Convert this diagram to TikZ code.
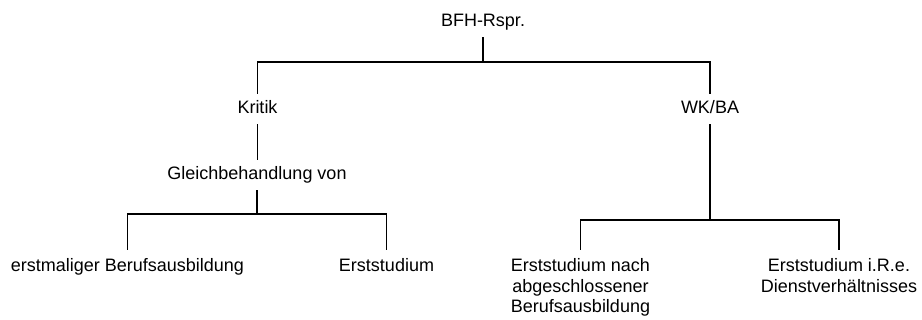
\documentclass[tikz,border=0pt]{standalone}
\usepackage{fontspec}
\setmainfont{Liberation Sans}
\begin{document}
\begin{tikzpicture}[x=1pt,y=-1pt,
  every node/.style={font=\fontsize{18}{20.5}\selectfont, inner xsep=0pt,
    inner ysep=6.5pt, text height=13.5pt, text depth=4.5pt, anchor=base, align=center},
  leaf/.style={inner ysep=8.5pt},
  twolines/.style={leaf, text height=34pt},
  threelines/.style={leaf, text height=54.5pt},
  link/.style={line width=1.3pt, line cap=rect}]
\useasboundingbox (0,0) rectangle (922,320);

% tree labels (multi-line labels sit on the baseline of their last line)
\node (root)   at (483,26.7)    {BFH-Rspr.};
\node (kritik) at (257.5,113.3) {Kritik};
\node (wkba)   at (710,113.3)   {WK/BA};
\node (gleich) at (257,179.3)   {Gleichbehandlung von};
\node[leaf] (erstBA)  at (127.5,271.7) {erstmaliger Berufsausbildung};
\node[leaf] (erstSt)  at (386.5,271.7) {Erststudium};
\node[threelines] (nachBA) at (580.5,312.7) {Erststudium nach\\abgeschlossener\\Berufsausbildung};
\node[twolines]   (dienst) at (839,292.2)   {Erststudium i.R.e.\\Dienstverhältnisses};

% horizontal bars of the branches
\coordinate (bar1) at (0,62);
\coordinate (bar2) at (0,214);
\coordinate (bar3) at (0,220);

% connectors
\draw[link] (root.south) -- (root.south |- bar1);
\draw[link] (kritik.north) |- (bar1 -| wkba.north) -- (wkba.north);
\draw[link] (kritik.south) -- (gleich.north -| kritik.south);
\draw[link] (gleich.south) -- (gleich.south |- bar2);
\draw[link] (erstBA.north) |- (bar2 -| erstSt.north) -- (erstSt.north);
\draw[link] (wkba.south) -- (wkba.south |- bar3);
\draw[link] (nachBA.north) |- (bar3 -| dienst.north) -- (dienst.north);
\end{tikzpicture}
\end{document}
